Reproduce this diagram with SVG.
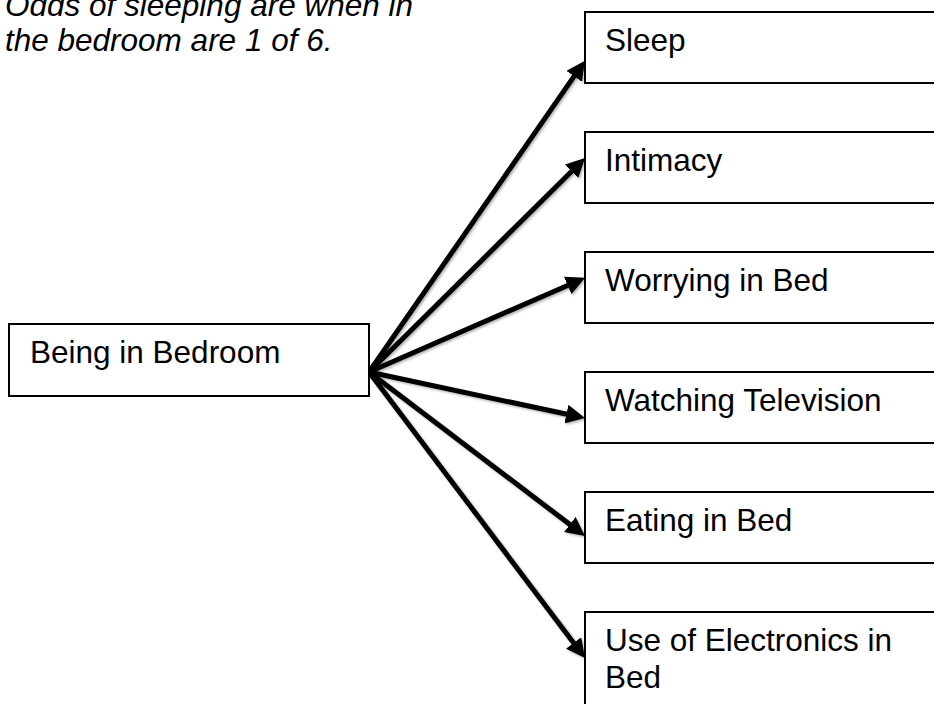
<svg xmlns="http://www.w3.org/2000/svg" width="934" height="704" viewBox="0 0 934 704">
<defs>
<style>
.box{fill:#fff;stroke:#000;stroke-width:2}
.lbl{font-family:"Liberation Sans",Arial,sans-serif;font-size:31.5px;fill:#000}
.note{font-family:"Liberation Sans",Arial,sans-serif;font-size:31.5px;font-style:italic;fill:#000}
.conn{stroke:#000;stroke-width:5;fill:none;marker-end:url(#ah)}
</style>
<marker id="ah" markerUnits="userSpaceOnUse" viewBox="0 0 19 19" refX="8" refY="9.5" markerWidth="19" markerHeight="19" orient="auto">
<path d="M0,0 L19,9.5 L0,19 z" fill="#000"/>
</marker>
<filter id="sh" x="-10%" y="-10%" width="120%" height="120%">
<feDropShadow dx="1.5" dy="1.5" stdDeviation="1.2" flood-color="#000" flood-opacity="0.3"/>
</filter>
</defs>
<rect width="934" height="704" fill="#fff"/>
<g id="note">
<text class="note" x="5" y="16">Odds of sleeping are when in</text>
<text class="note" x="5" y="51">the bedroom are 1 of 6.</text>
</g>
<g id="connectors" filter="url(#sh)">
<line class="conn" x1="369" y1="372" x2="578.7" y2="69.7"/>
<line class="conn" x1="369" y1="372" x2="577.2" y2="165.8"/>
<line class="conn" x1="369" y1="372" x2="575.0" y2="282.2"/>
<line class="conn" x1="369" y1="372" x2="574.2" y2="415.8"/>
<line class="conn" x1="369" y1="372" x2="576.2" y2="529.3"/>
<line class="conn" x1="369" y1="372" x2="578.4" y2="649.3"/>
</g>
<g id="n-bedroom"><rect class="box" x="9" y="324" width="360" height="72"/><text class="lbl" x="30" y="363">Being in Bedroom</text></g>
<g id="n-sleep"><rect class="box" x="585" y="12" width="360" height="71"/><text class="lbl" x="605" y="51">Sleep</text></g>
<g id="n-intimacy"><rect class="box" x="585" y="132" width="360" height="71"/><text class="lbl" x="605" y="171">Intimacy</text></g>
<g id="n-worrying"><rect class="box" x="585" y="252" width="360" height="71"/><text class="lbl" x="605" y="291">Worrying in Bed</text></g>
<g id="n-tv"><rect class="box" x="585" y="372" width="360" height="71"/><text class="lbl" x="605" y="411">Watching Television</text></g>
<g id="n-eating"><rect class="box" x="585" y="492" width="360" height="71"/><text class="lbl" x="605" y="531">Eating in Bed</text></g>
<g id="n-electronics"><rect class="box" x="585" y="612" width="360" height="110"/><text class="lbl" x="605" y="651">Use of Electronics in</text><text class="lbl" x="605" y="688">Bed</text></g>
</svg>
